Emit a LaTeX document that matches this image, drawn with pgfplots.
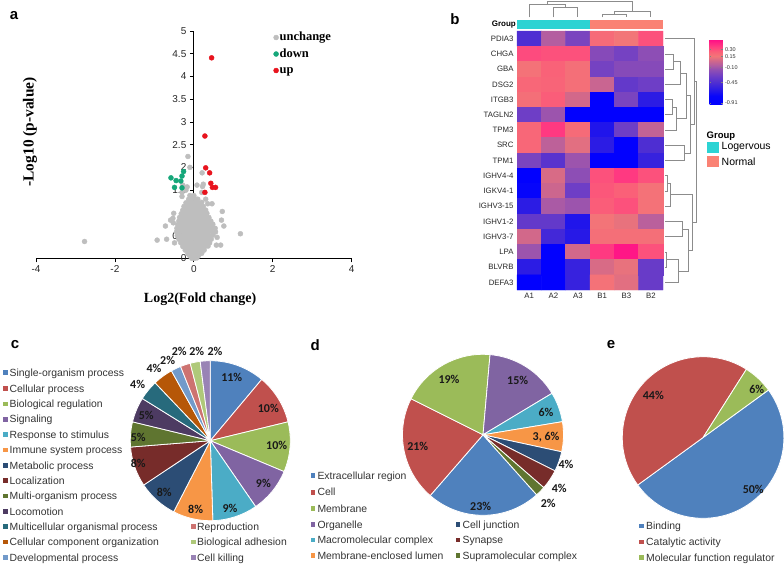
\documentclass[border=0pt]{standalone}
\usepackage{pgfplots}
\pgfplotsset{compat=1.18}
\usepackage{fontspec}
\setmainfont{Liberation Sans}
\newfontfamily\tnr{Liberation Serif}
\newfontfamily\calfont{Carlito}

% Excel 2010 palette
\definecolor{xBlue}{HTML}{4F81BD}
\definecolor{xRed}{HTML}{C0504D}
\definecolor{xGreen}{HTML}{9BBB59}
\definecolor{xPurple}{HTML}{8064A2}
\definecolor{xAqua}{HTML}{4BACC6}
\definecolor{xOrange}{HTML}{F79646}
\definecolor{dBlue}{HTML}{2C4D75}
\definecolor{dRed}{HTML}{772C2A}
\definecolor{dGreen}{HTML}{5F7530}
\definecolor{dPurple}{HTML}{4D3B62}
\definecolor{dAqua}{HTML}{276A7C}
\definecolor{dOrange}{HTML}{B65708}
\definecolor{lBlue}{HTML}{729ACA}
\definecolor{lRed}{HTML}{CD7371}
\definecolor{lGreen}{HTML}{AFC97A}
\definecolor{lPurple}{HTML}{9983B5}
\definecolor{volGray}{HTML}{BEBEBE}
\definecolor{volGreen}{HTML}{16A77A}
\definecolor{volRed}{HTML}{E8141E}
\definecolor{grpA}{HTML}{2CD3D3}
\definecolor{grpB}{HTML}{FA8274}
\definecolor{txt}{HTML}{333333}

\newcommand{\fs}[1]{\fontsize{#1}{#1}\selectfont}
% start angle, total, cumulative from, cumulative to, colour, radius
\newcommand{\pieslice}[6]{%
  \fill[#5, draw=white, line width=0.8pt, line join=round] (axis cs:0,0)
    -- ++({#1-(#3)/(#2)*360}:#6)
    arc[start angle={#1-(#3)/(#2)*360}, end angle={#1-(#4)/(#2)*360}, radius=#6] -- cycle;}
\newcommand{\plab}[3]{\node[font=\calfont\bfseries\fs{12}, text=black!90] at (axis cs:#1,#2) {#3};}
% square x-left, text x-left, image y, colour, text
\newcommand{\lgd}[5]{%
  \fill[#4] (#1,{566-#3-2.3}) rectangle ++(4.6,4.6);
  \node[anchor=base west, inner sep=0pt, font=\fs{10.4}, text=txt] at (#2,{566-#3-3.7}) {#5};}

\pgfplotsset{dendro/.style={no marks, draw=black!45, line width=0.7pt, forget plot}}

\begin{document}
\begin{tikzpicture}[x=1pt,y=1pt]
\path[use as bounding box] (0,0) rectangle (784,566);

% ---------------- a: volcano plot
\begin{axis}[
  at={(36pt,307.7pt)}, anchor=south west, scale only axis,
  width=315.7pt, height=227.3pt,
  xmin=-4, xmax=4, ymin=0, ymax=5,
  axis lines*=middle, axis on top,
  hide obscured x ticks=false, hide obscured y ticks=false,
  xtick={-4,-2,0,2,4}, ytick={0,0.5,1,1.5,2,2.5,3,3.5,4,4.5,5},
  tick align=outside, major tick length=4pt,
  axis line style={black, line width=1.1pt},
  tick style={black, line width=0.8pt},
  tick label style={font=\fs{10}, text=black!85},
  /pgf/number format/assume math mode=true,
  every axis x label/.style={at={(axis description cs:0.52,-0.179)}, anchor=center,
     font=\tnr\bfseries\fs{14}},
  every axis y label/.style={at={(axis description cs:-0.019,0.556)}, rotate=90, anchor=center,
     font=\tnr\bfseries\fs{15.4}},
  xlabel={Log2(Fold change)}, ylabel={-Log10 (p-value)},
  clip=false,
  legend style={at={(axis description cs:0.752,1.003)}, anchor=north west, draw=none, fill=none,
     font=\tnr\bfseries\fs{12.5}, row sep=2.5pt, inner sep=0pt,
     nodes={inner sep=1pt, text height=9pt, text depth=3pt}},
  legend cell align=left,
  /tikz/every even column/.append style={column sep=6pt},
  legend image code/.code={\draw[#1] plot coordinates {(0pt,0pt)};},
]
\addplot[only marks, mark=*, mark size=2.5pt, color=volGray] coordinates {
(-0.05,0.0)(0.02,0.0)(0.08,0.01)
(-0.1,0.05)(-0.02,0.05)(0.05,0.05)(0.12,0.06)
(-0.15,0.1)(-0.07,0.1)(0,0.1)(0.07,0.11)(0.14,0.1)(0.2,0.11)
(-0.22,0.18)(-0.14,0.18)(-0.06,0.19)(0.02,0.18)(0.1,0.18)(0.18,0.19)(0.26,0.18)
(-0.28,0.26)(-0.2,0.26)(-0.12,0.27)(-0.04,0.26)(0.04,0.26)(0.12,0.27)(0.2,0.26)(0.28,0.26)(0.36,0.27)
(-0.33,0.34)(-0.25,0.34)(-0.17,0.35)(-0.09,0.34)(-0.01,0.34)(0.07,0.35)(0.15,0.34)(0.23,0.34)(0.31,0.35)(0.40,0.34)
(-0.38,0.42)(-0.3,0.42)(-0.22,0.43)(-0.14,0.42)(-0.06,0.42)(0.02,0.43)(0.1,0.42)(0.18,0.42)(0.26,0.43)(0.34,0.42)(0.44,0.42)
(-0.42,0.5)(-0.34,0.5)(-0.26,0.51)(-0.18,0.5)(-0.1,0.5)(-0.02,0.51)(0.06,0.5)(0.14,0.5)(0.22,0.51)(0.3,0.5)(0.38,0.5)(0.48,0.51)
(-0.44,0.58)(-0.36,0.58)(-0.28,0.59)(-0.2,0.58)(-0.12,0.58)(-0.04,0.59)(0.04,0.58)(0.12,0.58)(0.2,0.59)(0.28,0.58)(0.36,0.58)(0.45,0.59)(0.55,0.58)
(-0.43,0.66)(-0.35,0.66)(-0.27,0.67)(-0.19,0.66)(-0.11,0.66)(-0.03,0.67)(0.05,0.66)(0.13,0.66)(0.21,0.67)(0.29,0.66)(0.37,0.66)(0.46,0.67)(0.54,0.66)
(-0.41,0.74)(-0.33,0.74)(-0.25,0.75)(-0.17,0.74)(-0.09,0.74)(-0.01,0.75)(0.07,0.74)(0.15,0.74)(0.23,0.75)(0.31,0.74)(0.39,0.74)(0.48,0.75)
(-0.38,0.82)(-0.3,0.82)(-0.22,0.83)(-0.14,0.82)(-0.06,0.82)(0.02,0.83)(0.1,0.82)(0.18,0.82)(0.26,0.83)(0.34,0.82)(0.43,0.82)
(-0.36,0.9)(-0.28,0.9)(-0.2,0.91)(-0.12,0.9)(-0.04,0.9)(0.04,0.91)(0.12,0.9)(0.2,0.9)(0.28,0.91)(0.38,0.9)
(-0.32,0.98)(-0.24,0.98)(-0.16,0.99)(-0.08,0.98)(0,0.98)(0.08,0.99)(0.16,0.98)(0.24,0.98)(0.33,0.99)
(-0.28,1.06)(-0.2,1.06)(-0.12,1.07)(-0.04,1.06)(0.04,1.06)(0.12,1.07)(0.2,1.06)(0.3,1.06)
(-0.25,1.14)(-0.17,1.14)(-0.09,1.15)(-0.01,1.14)(0.07,1.14)(0.15,1.15)(0.24,1.14)
(-0.2,1.22)(-0.12,1.22)(-0.04,1.23)(0.04,1.22)(0.12,1.22)(0.2,1.23)
(-0.13,1.3)(-0.05,1.3)(0.03,1.31)(0.1,1.3)
(-0.1,1.38)(0,1.38)
(-2.77,0.37)(-0.93,0.40)(-0.69,0.42)(-0.72,0.71)(-0.59,0.84)(-0.51,0.99)(-0.53,0.88)(-0.49,0.34)
(-0.52,0.78)(-0.30,1.45)(-0.28,1.61)(-0.17,1.57)(-0.15,2.24)(-0.10,2.0)(0.21,1.88)(0.22,1.58)
(0.2,1.45)(0.24,1.63)(0.3,1.3)(0.35,1.2)(0.46,1.2)(0.72,1.03)(0.70,0.84)(0.76,0.71)(1.18,0.54)
(0.59,0.46)(0.57,0.29)(0.68,0.29)(0.42,0.62)(-0.3,1.36)(0.08,1.61)(-0.2,1.5)
};
\addlegendentry{unchange}
\addplot[only marks, mark=*, mark size=2.5pt, color=volGreen] coordinates {
(-0.58,1.77)(-0.45,1.71)(-0.33,1.70)(-0.30,1.81)(-0.26,1.91)(-0.49,1.56)(-0.30,1.55)
};
\addlegendentry{down}
\addplot[only marks, mark=*, mark size=2.5pt, color=volRed] coordinates {
(0.45,4.41)(0.28,2.69)(0.30,1.99)(0.40,1.88)(0.43,1.65)(0.47,1.56)(0.55,1.56)(0.28,1.45)
};
\addlegendentry{up}
\end{axis}

% ---------------- b: heatmap
\begin{axis}[
  at={(517pt,276pt)}, anchor=south west, scale only axis,
  width=146pt, height=259pt,
  xmin=-0.5, xmax=5.5, ymin=-0.5, ymax=16.5, y dir=reverse,
  clip=false, axis line style={draw=none}, major tick length=0pt,
  xtick={0,...,5}, xticklabels={A1,A2,A3,B1,B3,B2},
  ytick={0,...,16},
  yticklabels={PDIA3,CHGA,GBA,DSG2,ITGB3,TAGLN2,TPM3,SRC,TPM1,IGHV4-4,IGKV4-1,IGHV3-15,IGHV1-2,IGHV3-7,LPA,BLVRB,DEFA3},
  tick label style={font=\fs{7.8}, text=black!85},
  colormap={hm}{rgb255(0)=(0,0,255) rgb255(21)=(8,6,250) rgb255(36)=(44,28,228)
    rgb255(51)=(78,46,210) rgb255(66)=(110,62,198) rgb255(81)=(146,80,178)
    rgb255(91)=(180,94,160) rgb255(101)=(210,104,138) rgb255(111)=(242,118,120)
    rgb255(121)=(250,96,120) rgb255(131)=(255,66,128) rgb255(150)=(255,10,135)},
  point meta min=-0.96, point meta max=0.54,
  colorbar,
  colorbar style={at={(parent axis.north east)}, anchor=north west, xshift=38pt, yshift=-8pt,
    scale only axis, width=13pt, height=66pt, y dir=normal, xtick=\empty,
    ytick={-0.91,-0.45,-0.1,0.15,0.3}, yticklabels={-0.91,-0.45,-0.10,0.15,0.30},
    yticklabel style={font=\fs{5.5}, text=black!80, xshift=-1pt},
    major tick length=1.5pt, tick style={black!50}, axis line style={draw=none}},
]
\addplot[matrix plot*, mesh/cols=6, point meta=explicit] table[meta=v] {
x y v
0 0 -0.45
1 0 -0.05
2 0 -0.25
3 0 0.20
4 0 0.15
5 0 0.30
0 1 0.32
1 1 0.30
2 1 0.30
3 1 -0.20
4 1 -0.27
5 1 -0.17
0 2 0.17
1 2 0.24
2 2 0.18
3 2 -0.27
4 2 -0.20
5 2 -0.20
0 3 0.22
1 3 0.23
2 3 0.18
3 3 0.02
4 3 -0.35
5 3 -0.30
0 4 0.18
1 4 0.26
2 4 0.05
3 4 -0.91
4 4 -0.25
5 4 -0.60
0 5 -0.30
1 5 -0.12
2 5 -0.91
3 5 -0.91
4 5 -0.91
5 5 -0.91
0 6 0.22
1 6 0.38
2 6 0.20
3 6 -0.65
4 6 -0.30
5 6 0.00
0 7 0.22
1 7 -0.02
2 7 0.10
3 7 -0.60
4 7 -0.91
5 7 -0.45
0 8 -0.25
1 8 -0.40
2 8 -0.12
3 8 -0.91
4 8 -0.91
5 8 -0.55
0 9 -0.91
1 9 0.07
2 9 -0.17
3 9 0.30
4 9 0.38
5 9 0.30
0 10 -0.80
1 10 0.03
2 10 -0.30
3 10 0.28
4 10 0.25
5 10 0.17
0 11 -0.60
1 11 -0.08
2 11 -0.12
3 11 0.26
4 11 0.30
5 11 0.17
0 12 -0.35
1 12 -0.35
2 12 -0.65
3 12 0.16
4 12 0.12
5 12 -0.03
0 13 0.05
1 13 -0.50
2 13 -0.62
3 13 0.18
4 13 0.18
5 13 0.18
0 14 -0.12
1 14 -0.91
2 14 0.05
3 14 0.38
4 14 0.50
5 14 0.30
0 15 -0.60
1 15 -0.91
2 15 -0.55
3 15 0.07
4 15 0.12
5 15 -0.33
0 16 -0.91
1 16 -0.91
2 16 -0.55
3 16 0.17
4 16 0.10
5 16 -0.33
};
% group bar
\addplot[fill=grpA, draw=none, forget plot] coordinates {(-0.5,-0.61)(2.5,-0.61)(2.5,-1.22)(-0.5,-1.22)} -- cycle;
\addplot[fill=grpB, draw=none, forget plot] coordinates {(2.5,-0.61)(5.5,-0.61)(5.5,-1.22)(2.5,-1.22)} -- cycle;
% column dendrogram
\addplot[dendro] coordinates {(1,-1.4)(1,-2.06)(2,-2.06)(2,-1.4)};
\addplot[dendro] coordinates {(0,-1.4)(0,-2.23)(1.5,-2.23)(1.5,-2.06)};
\addplot[dendro] coordinates {(3,-1.4)(3,-1.6)(4,-1.6)(4,-1.4)};
\addplot[dendro] coordinates {(3.5,-1.6)(3.5,-1.77)(5,-1.77)(5,-1.4)};
\addplot[dendro] coordinates {(0.75,-2.23)(0.75,-2.42)(4.25,-2.42)(4.25,-1.77)};
% row dendrogram
\addplot[dendro] coordinates {(5.583,1)(5.924,1)(5.924,2)(5.583,2)};
\addplot[dendro] coordinates {(5.924,1.5)(6.228,1.5)(6.228,3)(5.583,3)};
\addplot[dendro] coordinates {(5.583,4)(5.883,4)(5.883,5)(5.583,5)};
\addplot[dendro] coordinates {(5.883,4.5)(6.064,4.5)(6.064,6)(5.583,6)};
\addplot[dendro] coordinates {(6.228,2.25)(6.475,2.25)(6.475,5.25)(6.064,5.25)};
\addplot[dendro] coordinates {(5.583,7)(6.376,7)(6.376,8)(5.583,8)};
\addplot[dendro] coordinates {(6.475,3.75)(6.64,3.75)(6.64,7.5)(6.376,7.5)};
\addplot[dendro] coordinates {(5.583,0)(6.787,0)(6.787,5.625)(6.64,5.625)};
\addplot[dendro] coordinates {(5.583,9)(5.694,9)(5.694,10)(5.583,10)};
\addplot[dendro] coordinates {(5.694,9.5)(5.788,9.5)(5.788,11)(5.583,11)};
\addplot[dendro] coordinates {(5.583,12)(6.311,12)(6.311,13)(5.583,13)};
\addplot[dendro] coordinates {(5.583,14)(5.653,14)(5.653,15)(5.583,15)};
\addplot[dendro] coordinates {(5.653,14.5)(6.13,14.5)(6.13,16)(5.583,16)};
\addplot[dendro] coordinates {(6.311,12.5)(6.541,12.5)(6.541,15.25)(6.13,15.25)};
\addplot[dendro] coordinates {(5.788,10.25)(6.705,10.25)(6.705,13.875)(6.541,13.875)};
\addplot[dendro] coordinates {(6.787,2.8125)(6.857,2.8125)(6.857,12.0625)(6.705,12.0625)};
\node[anchor=east, inner sep=1pt, font=\bfseries\fs{8}] at (axis cs:-0.5,-0.92) {Group};
\end{axis}

% group legend
\node[anchor=west, inner sep=0pt, font=\bfseries\fs{9.5}] at (706.5,429.5) {Group};
\fill[grpA] (707,412.7) rectangle (719,424.3);
\fill[grpB] (707,398.7) rectangle (719,410);
\node[anchor=west, inner sep=0pt, font=\fs{10.5}] at (721.5,418.7) {Logervous};
\node[anchor=west, inner sep=0pt, font=\fs{10.5}] at (721.5,404.3) {Normal};

% ---------------- c: biological process pie
\begin{axis}[at={(130.3pt,45.3pt)}, anchor=south west, scale only axis, width=160pt, height=160pt,
  xmin=-1, xmax=1, ymin=-1, ymax=1, hide axis, clip=false]
\pieslice{90}{99}{0}{11}{xBlue}{80pt}
\pieslice{90}{99}{11}{21}{xRed}{80pt}
\pieslice{90}{99}{21}{31}{xGreen}{80pt}
\pieslice{90}{99}{31}{40}{xPurple}{80pt}
\pieslice{90}{99}{40}{49}{xAqua}{80pt}
\pieslice{90}{99}{49}{57}{xOrange}{80pt}
\pieslice{90}{99}{57}{65}{dBlue}{80pt}
\pieslice{90}{99}{65}{73}{dRed}{80pt}
\pieslice{90}{99}{73}{78}{dGreen}{80pt}
\pieslice{90}{99}{78}{83}{dPurple}{80pt}
\pieslice{90}{99}{83}{87}{dAqua}{80pt}
\pieslice{90}{99}{87}{91}{dOrange}{80pt}
\pieslice{90}{99}{91}{93}{lBlue}{80pt}
\pieslice{90}{99}{93}{95}{lRed}{80pt}
\pieslice{90}{99}{95}{97}{lGreen}{80pt}
\pieslice{90}{99}{97}{99}{lPurple}{80pt}
\plab{0.268}{0.793}{11\%}
\plab{0.725}{0.405}{10\%}
\plab{0.83}{-0.054}{10\%}
\plab{0.663}{-0.533}{9\%}
\plab{0.246}{-0.845}{9\%}
\plab{-0.183}{-0.858}{8\%}
\plab{-0.575}{-0.65}{8\%}
\plab{-0.9}{-0.283}{8\%}
\plab{-0.9}{0.038}{5\%}
\plab{-0.8}{0.318}{5\%}
\plab{-0.908}{0.705}{4\%}
\plab{-0.704}{0.905}{4\%}
\plab{-0.533}{1.009}{2\%}
\plab{-0.388}{1.121}{2\%}
\plab{-0.17}{1.121}{2\%}
\plab{0.059}{1.113}{2\%}
\end{axis}

% ---------------- d: cellular component pie
\begin{axis}[at={(402.5pt,50.7pt)}, anchor=south west, scale only axis, width=161pt, height=161pt,
  xmin=-1, xmax=1, ymin=-1, ymax=1, hide axis, clip=false]
\pieslice{-48.2}{100}{0}{23}{xBlue}{80.5pt}
\pieslice{-48.2}{100}{23}{44}{xRed}{80.5pt}
\pieslice{-48.2}{100}{44}{63}{xGreen}{80.5pt}
\pieslice{-48.2}{100}{63}{78}{xPurple}{80.5pt}
\pieslice{-48.2}{100}{78}{84}{xAqua}{80.5pt}
\pieslice{-48.2}{100}{84}{90}{xOrange}{80.5pt}
\pieslice{-48.2}{100}{90}{94}{dBlue}{80.5pt}
\pieslice{-48.2}{100}{94}{98}{dRed}{80.5pt}
\pieslice{-48.2}{100}{98}{100}{dGreen}{80.5pt}
\plab{-0.422}{0.689}{19\%}
\plab{0.431}{0.681}{15\%}
\plab{0.783}{0.28}{6\%}
\plab{0.783}{-0.024}{3, 6\%}
\plab{1.031}{-0.363}{4\%}
\plab{0.948}{-0.665}{4\%}
\plab{0.811}{-0.851}{2\%}
\plab{-0.029}{-0.884}{23\%}
\plab{-0.811}{-0.139}{21\%}
\end{axis}

% ---------------- e: molecular function pie
\begin{axis}[at={(622.3pt,47.7pt)}, anchor=south west, scale only axis, width=161.6pt, height=161.6pt,
  xmin=-1, xmax=1, ymin=-1, ymax=1, hide axis, clip=false]
\pieslice{36}{100}{0}{50}{xBlue}{80.8pt}
\pieslice{36}{100}{50}{94}{xRed}{80.8pt}
\pieslice{36}{100}{94}{100}{xGreen}{80.8pt}
\plab{-0.616}{0.526}{44\%}
\plab{0.663}{0.597}{6\%}
\plab{0.621}{-0.641}{50\%}
\end{axis}

% pie legends
\lgd{3.3}{9.5}{372.7}{xBlue}{Single-organism process}
\lgd{3.3}{9.5}{388.3}{xRed}{Cellular process}
\lgd{3.3}{9.5}{403.8}{xGreen}{Biological regulation}
\lgd{3.3}{9.5}{419.2}{xPurple}{Signaling}
\lgd{3.3}{9.5}{434.6}{xAqua}{Response to stimulus}
\lgd{3.3}{9.5}{450.0}{xOrange}{Immune system process}
\lgd{3.3}{9.5}{465.3}{dBlue}{Metabolic process}
\lgd{3.3}{9.5}{480.7}{dRed}{Localization}
\lgd{3.3}{9.5}{496.0}{dGreen}{Multi-organism process}
\lgd{3.3}{9.5}{511.3}{dPurple}{Locomotion}
\lgd{3.3}{9.5}{526.7}{dAqua}{Multicellular organismal process}
\lgd{3.3}{9.5}{542.0}{dOrange}{Cellular component organization}
\lgd{3.3}{9.5}{557.4}{lBlue}{Developmental process}
\lgd{191}{197}{526.7}{lRed}{Reproduction}
\lgd{191}{197}{542.0}{lGreen}{Biological adhesion}
\lgd{191}{197}{557.4}{lPurple}{Cell killing}

\lgd{310.7}{317.3}{475.7}{xBlue}{Extracellular region}
\lgd{310.7}{317.3}{492.2}{xRed}{Cell}
\lgd{310.7}{317.3}{508.7}{xGreen}{Membrane}
\lgd{310.7}{317.3}{524.3}{xPurple}{Organelle}
\lgd{310.7}{317.3}{540.0}{xAqua}{Macromolecular complex}
\lgd{310.7}{317.3}{555.7}{xOrange}{Membrane-enclosed lumen}
\lgd{455.7}{462.5}{524.3}{dBlue}{Cell junction}
\lgd{455.7}{462.5}{540.0}{dRed}{Synapse}
\lgd{455.7}{462.5}{555.7}{dGreen}{Supramolecular complex}

\lgd{639}{646}{526.0}{xBlue}{Binding}
\lgd{639}{646}{542.0}{xRed}{Catalytic activity}
\lgd{639}{646}{557.7}{xGreen}{Molecular function regulator}

% panel letters
\node[font=\bfseries\fs{15}] at (14,550.5) {a};
\node[font=\bfseries\fs{15}] at (455,547.3) {b};
\node[font=\bfseries\fs{15}] at (15,221) {c};
\node[font=\bfseries\fs{15}] at (315.3,221.3) {d};
\node[font=\bfseries\fs{15}] at (611,221.4) {e};
\end{tikzpicture}
\end{document}
